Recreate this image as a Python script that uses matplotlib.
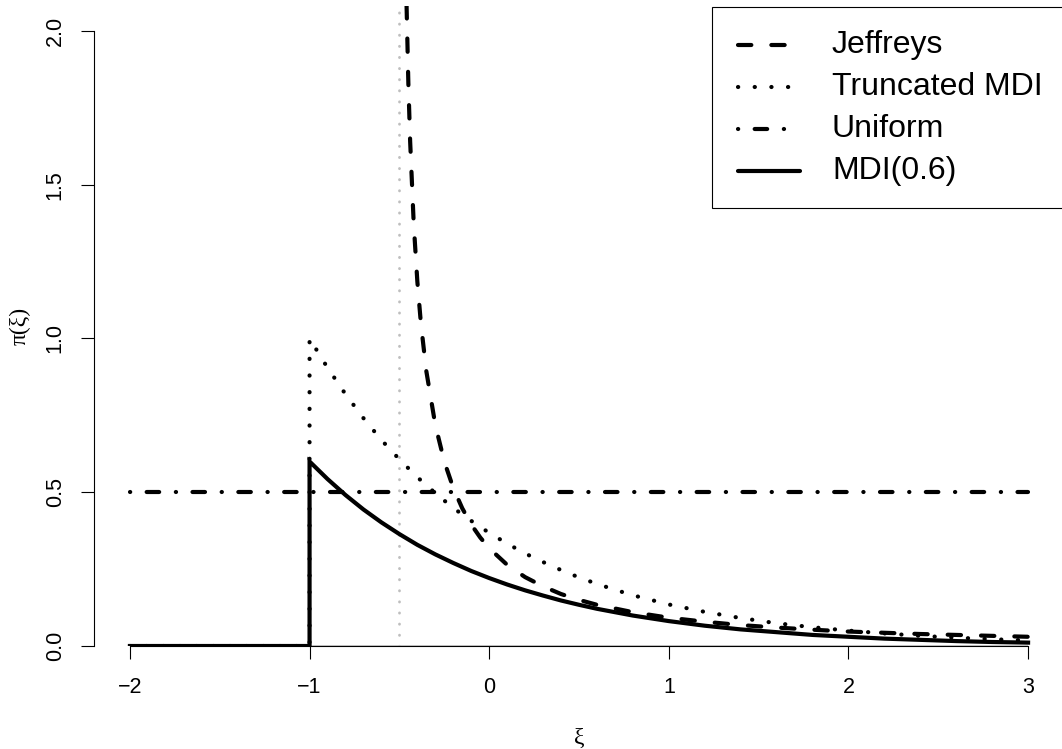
import numpy as np
import matplotlib.pyplot as plt
from matplotlib.lines import Line2D
from matplotlib.patches import Rectangle

plt.rcParams['font.family'] = ['Liberation Sans', 'DejaVu Sans']

# prior densities read along xi
mdi_xi = [-2.0, -1.0, -1.0, -0.9, -0.8, -0.7, -0.6, -0.5, -0.4, -0.3, -0.2, -0.1,
          0.0, 0.1, 0.2, 0.3, 0.4, 0.5, 0.6, 0.7, 0.8, 0.9, 1.0,
          1.2, 1.4, 1.6, 1.8, 2.0, 2.2, 2.4, 2.6, 2.8, 3.0]
trunc_mdi = [0.0, 0.0, 1.000, 0.905, 0.819, 0.741, 0.670, 0.607, 0.549, 0.497, 0.449, 0.407,
             0.368, 0.333, 0.301, 0.273, 0.247, 0.223, 0.202, 0.183, 0.165, 0.150, 0.135,
             0.111, 0.091, 0.074, 0.061, 0.050, 0.041, 0.033, 0.027, 0.022, 0.018]
mdi_06 = [0.0, 0.0, 0.600, 0.543, 0.491, 0.444, 0.402, 0.364, 0.329, 0.298, 0.270, 0.244,
          0.221, 0.200, 0.181, 0.164, 0.148, 0.134, 0.121, 0.110, 0.099, 0.090, 0.081,
          0.066, 0.054, 0.045, 0.036, 0.030, 0.024, 0.020, 0.016, 0.013, 0.011]

jeff_xi = [-0.46, -0.45, -0.44, -0.42, -0.40, -0.38, -0.35, -0.30, -0.25, -0.20, -0.15,
           -0.10, -0.05, 0.0, 0.1, 0.2, 0.3, 0.4, 0.5, 0.6, 0.8, 1.0, 1.2, 1.4, 1.6,
           1.8, 2.0, 2.2, 2.4, 2.6, 2.8, 3.0]
jeffreys = [2.084, 1.830, 1.641, 1.372, 1.186, 1.048, 0.894, 0.719, 0.600, 0.514, 0.448,
            0.395, 0.353, 0.318, 0.264, 0.224, 0.194, 0.169, 0.150, 0.134, 0.110, 0.092,
            0.079, 0.068, 0.060, 0.053, 0.047, 0.043, 0.039, 0.036, 0.033, 0.030]

unif_xi = [-2.0, 3.0]
uniform = [0.5, 0.5]

xi_range = (-2.0, 3.0)
xi_lower = -0.5

xticks = [-2, -1, 0, 1, 2, 3]
yticks = [0.0, 0.5, 1.0, 1.5, 2.0]

W, H = 1062, 749
fig = plt.figure(figsize=(W / 100, H / 100), dpi=100)
ax = fig.add_axes([94 / W, 103 / H, 970 / W, 640 / H])
ax.set_xlim(-2.2, 3.2)
ax.set_ylim(0, 2.0813)

LW = 3.0
dash = dict(dash_capstyle='round', solid_capstyle='round')

ax.hlines(0, *xi_range, color='#bebebe', lw=1.2, zorder=1)
ax.vlines(xi_lower, 0, 2.2, color='#bebebe', lw=2.0, linestyles=[(0, (0.1, 3.9))],
          capstyle='round', zorder=1)

ax.plot(jeff_xi, jeffreys, color='black', lw=LW, linestyle=(0, (3.2, 4.8)), **dash, zorder=3)
ax.plot(mdi_xi, trunc_mdi, color='black', lw=LW, linestyle=(0, (0.05, 3.95)), **dash, zorder=3)
ax.plot(unif_xi, uniform, color='black', lw=LW, linestyle=(0, (0.05, 3.95, 3, 4)), **dash, zorder=3)
ax.plot(mdi_xi, mdi_06, color='black', lw=LW, solid_joinstyle='miter', zorder=4)

for s in ['top', 'right']:
    ax.spines[s].set_visible(False)
ax.spines['left'].set_bounds(0, 2)
ax.spines['bottom'].set_bounds(-2, 3)
for s in ['left', 'bottom']:
    ax.spines[s].set_linewidth(0.8)

ax.set_xticks(xticks)
ax.set_xticklabels(['\u22122', '\u22121', '0', '1', '2', '3'])
ax.set_yticks(yticks)
ax.set_yticklabels([f'{v:.1f}' for v in yticks], rotation=90, va='center')
ax.tick_params(axis='both', direction='out', length=9.4, width=0.8, labelsize=15.5)
ax.tick_params(axis='x', pad=13)
ax.tick_params(axis='y', pad=11)

fig.text(579 / W, 1 - 738 / H, '\u03be', family='Liberation Serif', fontsize=17,
         ha='center', va='center')
fig.text(20 / W, 1 - 326 / H, '\u03c0(\u03be)', family='Liberation Serif', fontsize=17,
         ha='center', va='center', rotation=90)

# legend box, anchored to the top right of the plot region
tf = fig.transFigure
fig.patches.append(Rectangle((712 / W, 1 - 208 / H), (1064 - 712) / W, 201 / H,
                             transform=tf, facecolor='white', edgecolor='black',
                             lw=0.8, zorder=5))
labels = ['Jeffreys', 'Truncated MDI', 'Uniform', 'MDI(0.6)']
styles = [(0, (3.2, 4.8)), (0, (0.05, 3.95)), (0, (0.05, 3.95, 3, 4)), '-']
for i, (lab, ls) in enumerate(zip(labels, styles)):
    y = 1 - (45 + 42 * i) / H
    fig.lines.append(Line2D([738 / W, 800 / W], [y, y], transform=tf, color='black',
                            lw=LW, linestyle=ls, zorder=6, **dash))
    fig.text(832 / W, y, lab, fontsize=23, ha='left', va='center', zorder=6)

fig.savefig('out.png', dpi=100)
